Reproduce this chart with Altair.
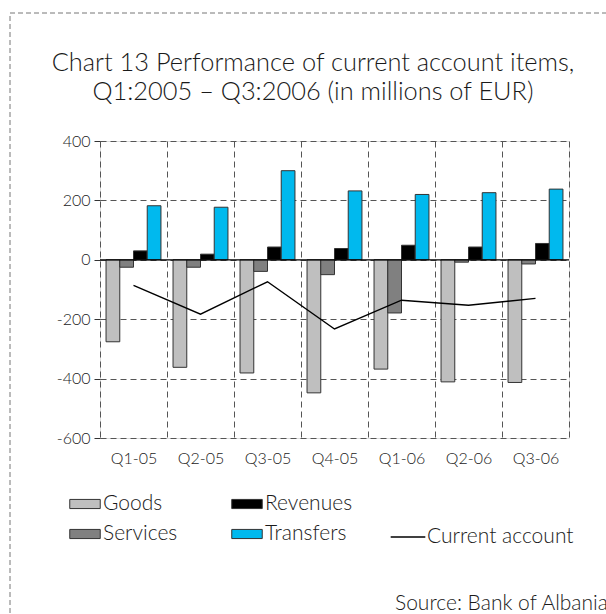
import altair as alt
import pandas as pd

# ---- data ----
quarters = ["Q1-05", "Q2-05", "Q3-05", "Q4-05", "Q1-06", "Q2-06", "Q3-06"]
goods = [-276, -362, -381, -448, -368, -411, -413]
services = [-25, -25, -39, -50, -179, -8, -14]
revenues = [30, 19, 43, 38, 49, 43, 55]
transfers = [182, 177, 300, 232, 220, 226, 238]
current_account = [-86, -183, -74, -233, -136, -153, -130]

series_names = ["Goods", "Services", "Revenues", "Transfers"]
series_colors = ["#BFBFBF", "#808080", "#000000", "#00B9EE"]
y_ticks = [-600, -400, -200, 0, 200, 400]

title_lines = ["Chart 13 Performance of current account items,",
               "Q1:2005 \u2013 Q3:2006 (in millions of EUR)"]
source_text = "Source: Bank of Albania"

FONT = "Lato"
W = 300
TXT = "#1a1a1a"

rows = []
for name, vals in zip(series_names, [goods, services, revenues, transfers]):
    for q, v in zip(quarters, vals):
        rows.append({"quarter": q, "series": name, "value": v})
bars_df = pd.DataFrame(rows)
ca_df = pd.DataFrame({"quarter": quarters, "value": current_account,
                      "name": ["Current account"] * len(quarters)})

x_enc = alt.X("quarter:N", sort=quarters, title=None,
              scale=alt.Scale(paddingInner=0, paddingOuter=0),
              axis=alt.Axis(tickBand="extent", grid=True, gridDash=[6, 4],
                            gridColor="#555555", gridWidth=1, ticks=False,
                            domain=False, labelAngle=0, labelFont=FONT,
                            labelFontSize=16, labelFontWeight=W, labelColor=TXT,
                            labelPadding=12))
y_enc = alt.Y("value:Q", title=None,
              scale=alt.Scale(domain=[-600, 400], nice=False),
              axis=alt.Axis(values=y_ticks, grid=True, gridDash=[6, 4],
                            gridColor="#555555", gridWidth=1, domain=False,
                            tickSize=6, tickColor="#333333", tickWidth=1,
                            labelExpr="'' + datum.value",
                            labelFont=FONT, labelFontSize=16, labelFontWeight=W,
                            labelColor=TXT, labelPadding=4))

bars = alt.Chart(bars_df).mark_bar(stroke="#333333", strokeWidth=1).encode(
    x=x_enc,
    xOffset=alt.XOffset("series:N", sort=series_names,
                        scale=alt.Scale(paddingInner=0, paddingOuter=0.44)),
    y=y_enc,
    fill=alt.Fill("series:N",
                  scale=alt.Scale(domain=series_names, range=series_colors),
                  legend=alt.Legend(title=None, orient="none", legendX=-31,
                                    legendY=347, columns=2, columnPadding=51,
                                    rowPadding=4,
                                    symbolType="M-1,-0.3L1,-0.3L1,0.3L-1,0.3Z",
                                    symbolSize=930, symbolStrokeColor="#333333",
                                    symbolStrokeWidth=1, labelOffset=2,
                                    labelFont=FONT, labelFontSize=21,
                                    labelFontWeight=W, labelColor=TXT,
                                    padding=0)),
)

zero = alt.Chart(pd.DataFrame({"v": [0]})).mark_rule(
    color="#000000", strokeWidth=1.2).encode(y=alt.Y("v:Q"))

line = alt.Chart(ca_df).mark_line(strokeWidth=1.4).encode(
    x=alt.X("quarter:N", sort=quarters),
    y=alt.Y("value:Q"),
    stroke=alt.Stroke("name:N",
                      scale=alt.Scale(domain=["Current account"], range=["#000000"]),
                      legend=alt.Legend(title=None, orient="none", legendX=290,
                                        legendY=378, symbolType="stroke",
                                        symbolSize=1200, symbolStrokeWidth=1.3,
                                        labelOffset=1, labelFont=FONT,
                                        labelFontSize=21, labelFontWeight=W,
                                        labelColor=TXT, padding=0)),
)

title1 = alt.Chart(pd.DataFrame({"t": [title_lines[0]]})).mark_text(
    font=FONT, fontSize=25.4, fontWeight=W, color=TXT, align="center",
    baseline="alphabetic"
).encode(text="t:N", x=alt.value(213), y=alt.value(-70))
title2 = alt.Chart(pd.DataFrame({"t": [title_lines[1]]})).mark_text(
    font=FONT, fontSize=25.4, fontWeight=W, color=TXT, align="center",
    baseline="alphabetic"
).encode(text="t:N", x=alt.value(213), y=alt.value(-41))
source = alt.Chart(pd.DataFrame({"t": [source_text]})).mark_text(
    font=FONT, fontSize=21, fontWeight=W, color=TXT, align="left",
    baseline="alphabetic"
).encode(text="t:N", x=alt.value(295), y=alt.value(469))

frame = alt.Chart(pd.DataFrame({"f": [0]})).mark_rect(
    fill="transparent", stroke="#777777", strokeWidth=1, strokeDash=[5, 3]
).encode(x=alt.value(-90), x2=alt.value(520), y=alt.value(-128), y2=alt.value(490))

chart = alt.layer(frame, bars, zero, line, title1, title2, source).resolve_scale(
    fill="independent", stroke="independent"
).properties(
    width=469, height=297,
    autosize=alt.AutoSizeParams(type="none"),
    padding={"left": 100, "top": 141, "right": 37, "bottom": 176},
    background="white",
).configure_view(strokeWidth=0).configure(font=FONT)

chart.save("out.html", embed_options={"renderer": "svg", "actions": False})
